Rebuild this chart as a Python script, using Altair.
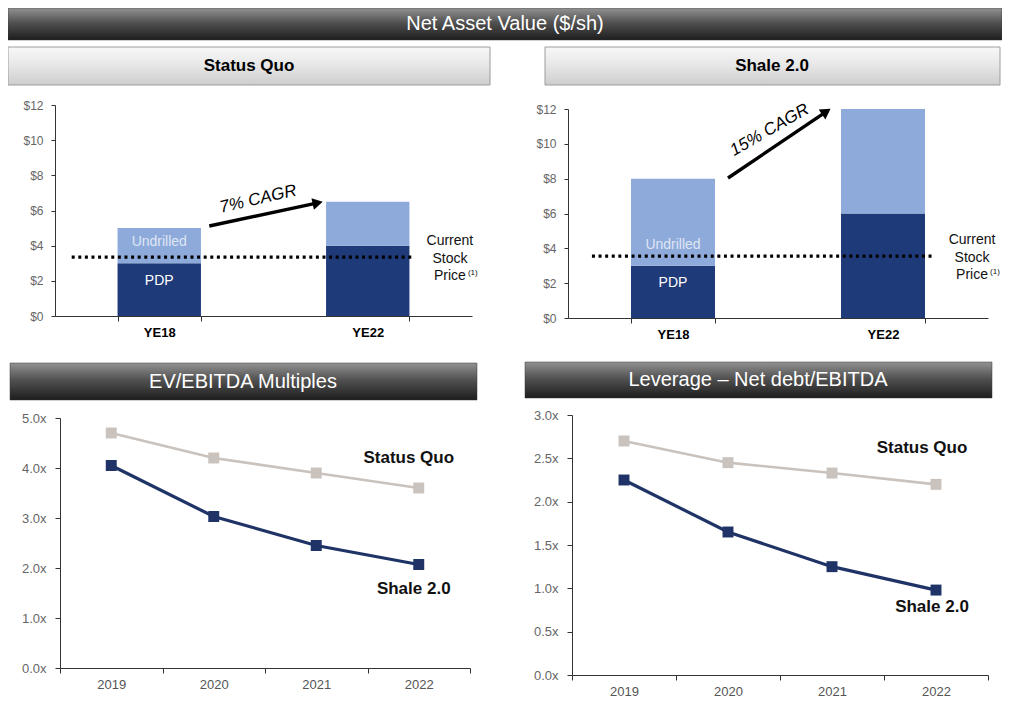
import altair as alt
import pandas as pd

# ---------------- data ----------------
bar_years = ["YE18", "YE22"]
bar_components = ["PDP", "Undrilled"]
status_quo_pdp = [3.0, 4.0]
status_quo_undrilled = [2.0, 2.5]
shale_pdp = [3.0, 6.0]
shale_undrilled = [5.0, 6.0]
stock_price = [3.35, 3.55]          # Status Quo panel, Shale 2.0 panel
bar_label_y = {"Undrilled": 4.2, "PDP": 2.0}
cagr_labels = ["7% CAGR", "15% CAGR"]

line_years = ["2019", "2020", "2021", "2022"]
series = ["Status Quo", "Shale 2.0"]
ev_status_quo = [4.7, 4.2, 3.9, 3.6]
ev_shale = [4.05, 3.03, 2.45, 2.07]
lev_status_quo = [2.7, 2.45, 2.33, 2.2]
lev_shale = [2.25, 1.65, 1.25, 0.98]

# ---------------- style ----------------
W, H = 994, 694
FONT = "Liberation Sans, Arial, sans-serif"
NARROW = "Liberation Sans, Arial, sans-serif"
NAVY = "#1f3a78"
LIGHT = "#8eaadb"
LINE_SH = "#1f3366"
LINE_SQ = "#c9c2bd"
AXIS = "#333333"
LABEL = "#666666"

one = pd.DataFrame({"a": [0]})


def dark_grad():
    return alt.Gradient(gradient="linear", x1=0, x2=0, y1=0, y2=1,
                        stops=[alt.GradientStop(color="#929292", offset=0),
                               alt.GradientStop(color="#525252", offset=0.45),
                               alt.GradientStop(color="#1d1d1d", offset=1)])


def light_grad():
    return alt.Gradient(gradient="linear", x1=0, x2=0, y1=0, y2=1,
                        stops=[alt.GradientStop(color="#f8f8f8", offset=0),
                               alt.GradientStop(color="#e6e6e6", offset=0.5),
                               alt.GradientStop(color="#cdcdcd", offset=1)])


def box(x, x2, y, y2, dark=True):
    if dark:
        m = alt.Chart(one).mark_rect(fill=dark_grad(), stroke="#3a3a3a", strokeWidth=0.5)
    else:
        m = alt.Chart(one).mark_rect(fill=light_grad(), stroke="#9c9c9c", strokeWidth=1)
    return m.encode(x=alt.value(x), x2=alt.value(x2), y=alt.value(y), y2=alt.value(y2))


def label(txt, cx, cy, size, color, weight="normal", font=NARROW):
    return alt.Chart(one).mark_text(text=txt, fontSize=size, color=color, fontWeight=weight,
                                    font=font, align="center", baseline="middle").encode(
        x=alt.value(cx), y=alt.value(cy))


layers = []

# headers
layers += [box(0, 994, 0, 32), label("Net Asset Value ($/sh)", 497, 16, 20, "white")]
layers += [box(0, 482, 39, 77, dark=False), label("Status Quo", 241, 58, 17, "black", "bold")]
layers += [box(537, 992, 39, 77, dark=False), label("Shale 2.0", 764, 58, 17, "black", "bold")]
layers += [box(2, 469, 355, 392), label("EV/EBITDA Multiples", 235, 374, 20, "white")]
layers += [box(517, 984, 354, 390), label("Leverage \u2013 Net debt/EBITDA", 750, 372, 20, "white")]


def bar_panel(pdp, und, xr, yr, price, cagr, arrow, cagr_pos, cagr_angle, annot_x, dotted):
    df = pd.DataFrame({
        "year": bar_years * 2,
        "component": ["PDP"] * 2 + ["Undrilled"] * 2,
        "value": pdp + und,
        "order": [0, 0, 1, 1],
    })
    xs = alt.Scale(domain=bar_years, range=xr, paddingInner=0.6, paddingOuter=0.3)
    ys = alt.Scale(domain=[0, 12], range=yr, nice=False, zero=True)
    xa = alt.Scale(domain=[0, 1], range=xr, nice=False, zero=False)
    out = []
    out.append(alt.Chart(df).mark_bar().encode(
        x=alt.X("year:N", sort=bar_years, scale=xs, title=None,
                axis=alt.Axis(orient="bottom", offset=-(H - yr[0]), tickBand="extent",
                              labelFont=FONT, labelFontSize=13, labelFontWeight="bold",
                              labelColor="black", labelPadding=5, tickSize=5,
                              tickColor=AXIS, domainColor=AXIS, labelAngle=0, grid=False)),
        y=alt.Y("value:Q", stack="zero", scale=ys, title=None,
                axis=alt.Axis(orient="left", offset=-xr[0], values=list(range(0, 13, 2)),
                              labelExpr="'$' + datum.value", labelFont=FONT, labelFontSize=12,
                              labelColor=LABEL, labelPadding=8, tickSize=4, tickColor=AXIS,
                              domainColor=AXIS, grid=False)),
        color=alt.Color("component:N", scale=alt.Scale(domain=bar_components, range=[NAVY, LIGHT]),
                        legend=None),
        order=alt.Order("order:Q"),
    ))
    # labels inside first bar
    ldf = pd.DataFrame({"year": [bar_years[0]] * 2, "component": ["Undrilled", "PDP"],
                        "y": [bar_label_y["Undrilled"], bar_label_y["PDP"]]})
    out.append(alt.Chart(ldf).mark_text(font=FONT, fontSize=14, baseline="middle").encode(
        x=alt.X("year:N", sort=bar_years, scale=xs, axis=None),
        y=alt.Y("y:Q", scale=ys, axis=None),
        text="component:N",
        color=alt.Color("component:N", scale=alt.Scale(domain=["Undrilled", "PDP"],
                                                        range=["#dfe6f4", "white"]), legend=None),
    ))
    # dotted stock price line
    pdf = pd.DataFrame({"x": [dotted[0]], "x2": [dotted[1]], "y": [price]})
    out.append(alt.Chart(pdf).mark_rule(color="black", strokeWidth=3.2, strokeDash=[3, 3.6]).encode(
        x=alt.X("x:Q", scale=xa, axis=None), x2="x2:Q",
        y=alt.Y("y:Q", scale=ys, axis=None)))
    # stock price label
    sdf = pd.DataFrame({"x": [annot_x], "y": [price]})
    out.append(alt.Chart(sdf).mark_text(text=["Current", "Stock", "Price"], font=FONT, fontSize=14,
                                        lineHeight=17.5, align="center", baseline="middle",
                                        color="#111111", dy=-16).encode(
        x=alt.X("x:Q", scale=xa, axis=None), y=alt.Y("y:Q", scale=ys, axis=None)))
    out.append(alt.Chart(sdf).mark_text(text="(1)", font=FONT, fontSize=8, align="left",
                                        baseline="middle", color="#111111", dx=18, dy=16).encode(
        x=alt.X("x:Q", scale=xa, axis=None), y=alt.Y("y:Q", scale=ys, axis=None)))
    # CAGR arrow
    adf = pd.DataFrame({"x": [arrow[0]], "y": [arrow[1]], "x2": [arrow[2]], "y2": [arrow[3]]})
    out.append(alt.Chart(adf).mark_rule(color="black", strokeWidth=3.4).encode(
        x=alt.X("x:Q", scale=xa, axis=None), y=alt.Y("y:Q", scale=ys, axis=None),
        x2="x2:Q", y2="y2:Q"))
    out.append(alt.Chart(adf).mark_point(shape="triangle-right", filled=True, color="black",
                                         opacity=1, size=140, angle=cagr_angle[1]).encode(
        x=alt.X("x2:Q", scale=xa, axis=None), y=alt.Y("y2:Q", scale=ys, axis=None)))
    tdf = pd.DataFrame({"x": [cagr_pos[0]], "y": [cagr_pos[1]], "t": [cagr]})
    out.append(alt.Chart(tdf).mark_text(font=FONT, fontSize=17, fontStyle="italic", color="black",
                                        angle=cagr_angle[0], align="center", baseline="middle").encode(
        x=alt.X("x:Q", scale=xa, axis=None), y=alt.Y("y:Q", scale=ys, axis=None), text="t:N"))
    return out


layers += bar_panel(status_quo_pdp, status_quo_undrilled, [47, 464], [308, 97], stock_price[0],
                    cagr_labels[0], [0.37, 5.12, 0.63, 6.43], [0.487, 6.65], [347, 348],
                    0.947, [0.04, 0.86])
layers += bar_panel(shale_pdp, shale_undrilled, [560, 980], [310, 101], stock_price[1],
                    cagr_labels[1], [0.381, 8.04, 0.615, 11.85], [0.48, 10.8], [330, 326],
                    0.962, [0.057, 0.867])


def line_panel(sq, sh, xr, yr, ymax, fmt_vals, label_offsets):
    xs = alt.Scale(domain=line_years, range=xr, paddingInner=0, paddingOuter=0)
    ys = alt.Scale(domain=[0, ymax], range=yr, nice=False)
    out = []
    first = True
    for name, vals, color, sw in [("Status Quo", sq, LINE_SQ, 2.6), ("Shale 2.0", sh, LINE_SH, 3.2)]:
        df = pd.DataFrame({"year": line_years, "value": vals})
        if first:
            xax = alt.Axis(orient="bottom", offset=-(H - yr[0]), tickBand="extent",
                           labelFont=FONT, labelFontSize=13, labelColor="#555555",
                           labelPadding=5, tickSize=5, tickColor=AXIS, domainColor=AXIS,
                           labelAngle=0, grid=False)
            yax = alt.Axis(orient="left", offset=-xr[0], values=fmt_vals,
                           labelExpr="format(datum.value, '.1f') + 'x'", labelFont=FONT,
                           labelFontSize=13, labelColor=LABEL, labelPadding=9, tickSize=5,
                           tickColor=AXIS, domainColor=AXIS, grid=False)
        else:
            xax = None
            yax = None
        first = False
        enc = dict(x=alt.X("year:N", sort=line_years, scale=xs, title=None, axis=xax),
                   y=alt.Y("value:Q", scale=ys, title=None, axis=yax))
        out.append(alt.Chart(df).mark_line(color=color, strokeWidth=sw).encode(**enc))
        enc2 = dict(x=alt.X("year:N", sort=line_years, scale=xs, axis=None),
                    y=alt.Y("value:Q", scale=ys, axis=None))
        out.append(alt.Chart(df).mark_point(shape="square", filled=True, color=color, opacity=1,
                                            size=120).encode(**enc2))
        ldf = df.tail(1).assign(t=name)
        dx, dy = label_offsets[name]
        out.append(alt.Chart(ldf).mark_text(font=FONT, fontSize=17, fontWeight="bold", color="#111111",
                                            dx=dx, dy=dy, align="center", baseline="middle").encode(
            text="t:N", **enc2))
    return out


layers += line_panel(ev_status_quo, ev_shale, [52, 462], [660, 410], 5.0,
                     [0, 1, 2, 3, 4, 5], {"Status Quo": (-10, -30), "Shale 2.0": (-5, 24)})
layers += line_panel(lev_status_quo, lev_shale, [564, 980], [667, 407], 3.0,
                     [0, 0.5, 1, 1.5, 2, 2.5, 3], {"Status Quo": (-14, -36), "Shale 2.0": (-4, 17)})

chart = alt.layer(*layers).resolve_scale(
    x="independent", y="independent", color="independent"
).resolve_axis(x="independent", y="independent").properties(
    width=W, height=H, padding=0, autosize=alt.AutoSizeParams(type="none"),
    background="white"
).configure_view(strokeWidth=0)

chart.save("out.html", embed_options={"renderer": "svg", "actions": False})
